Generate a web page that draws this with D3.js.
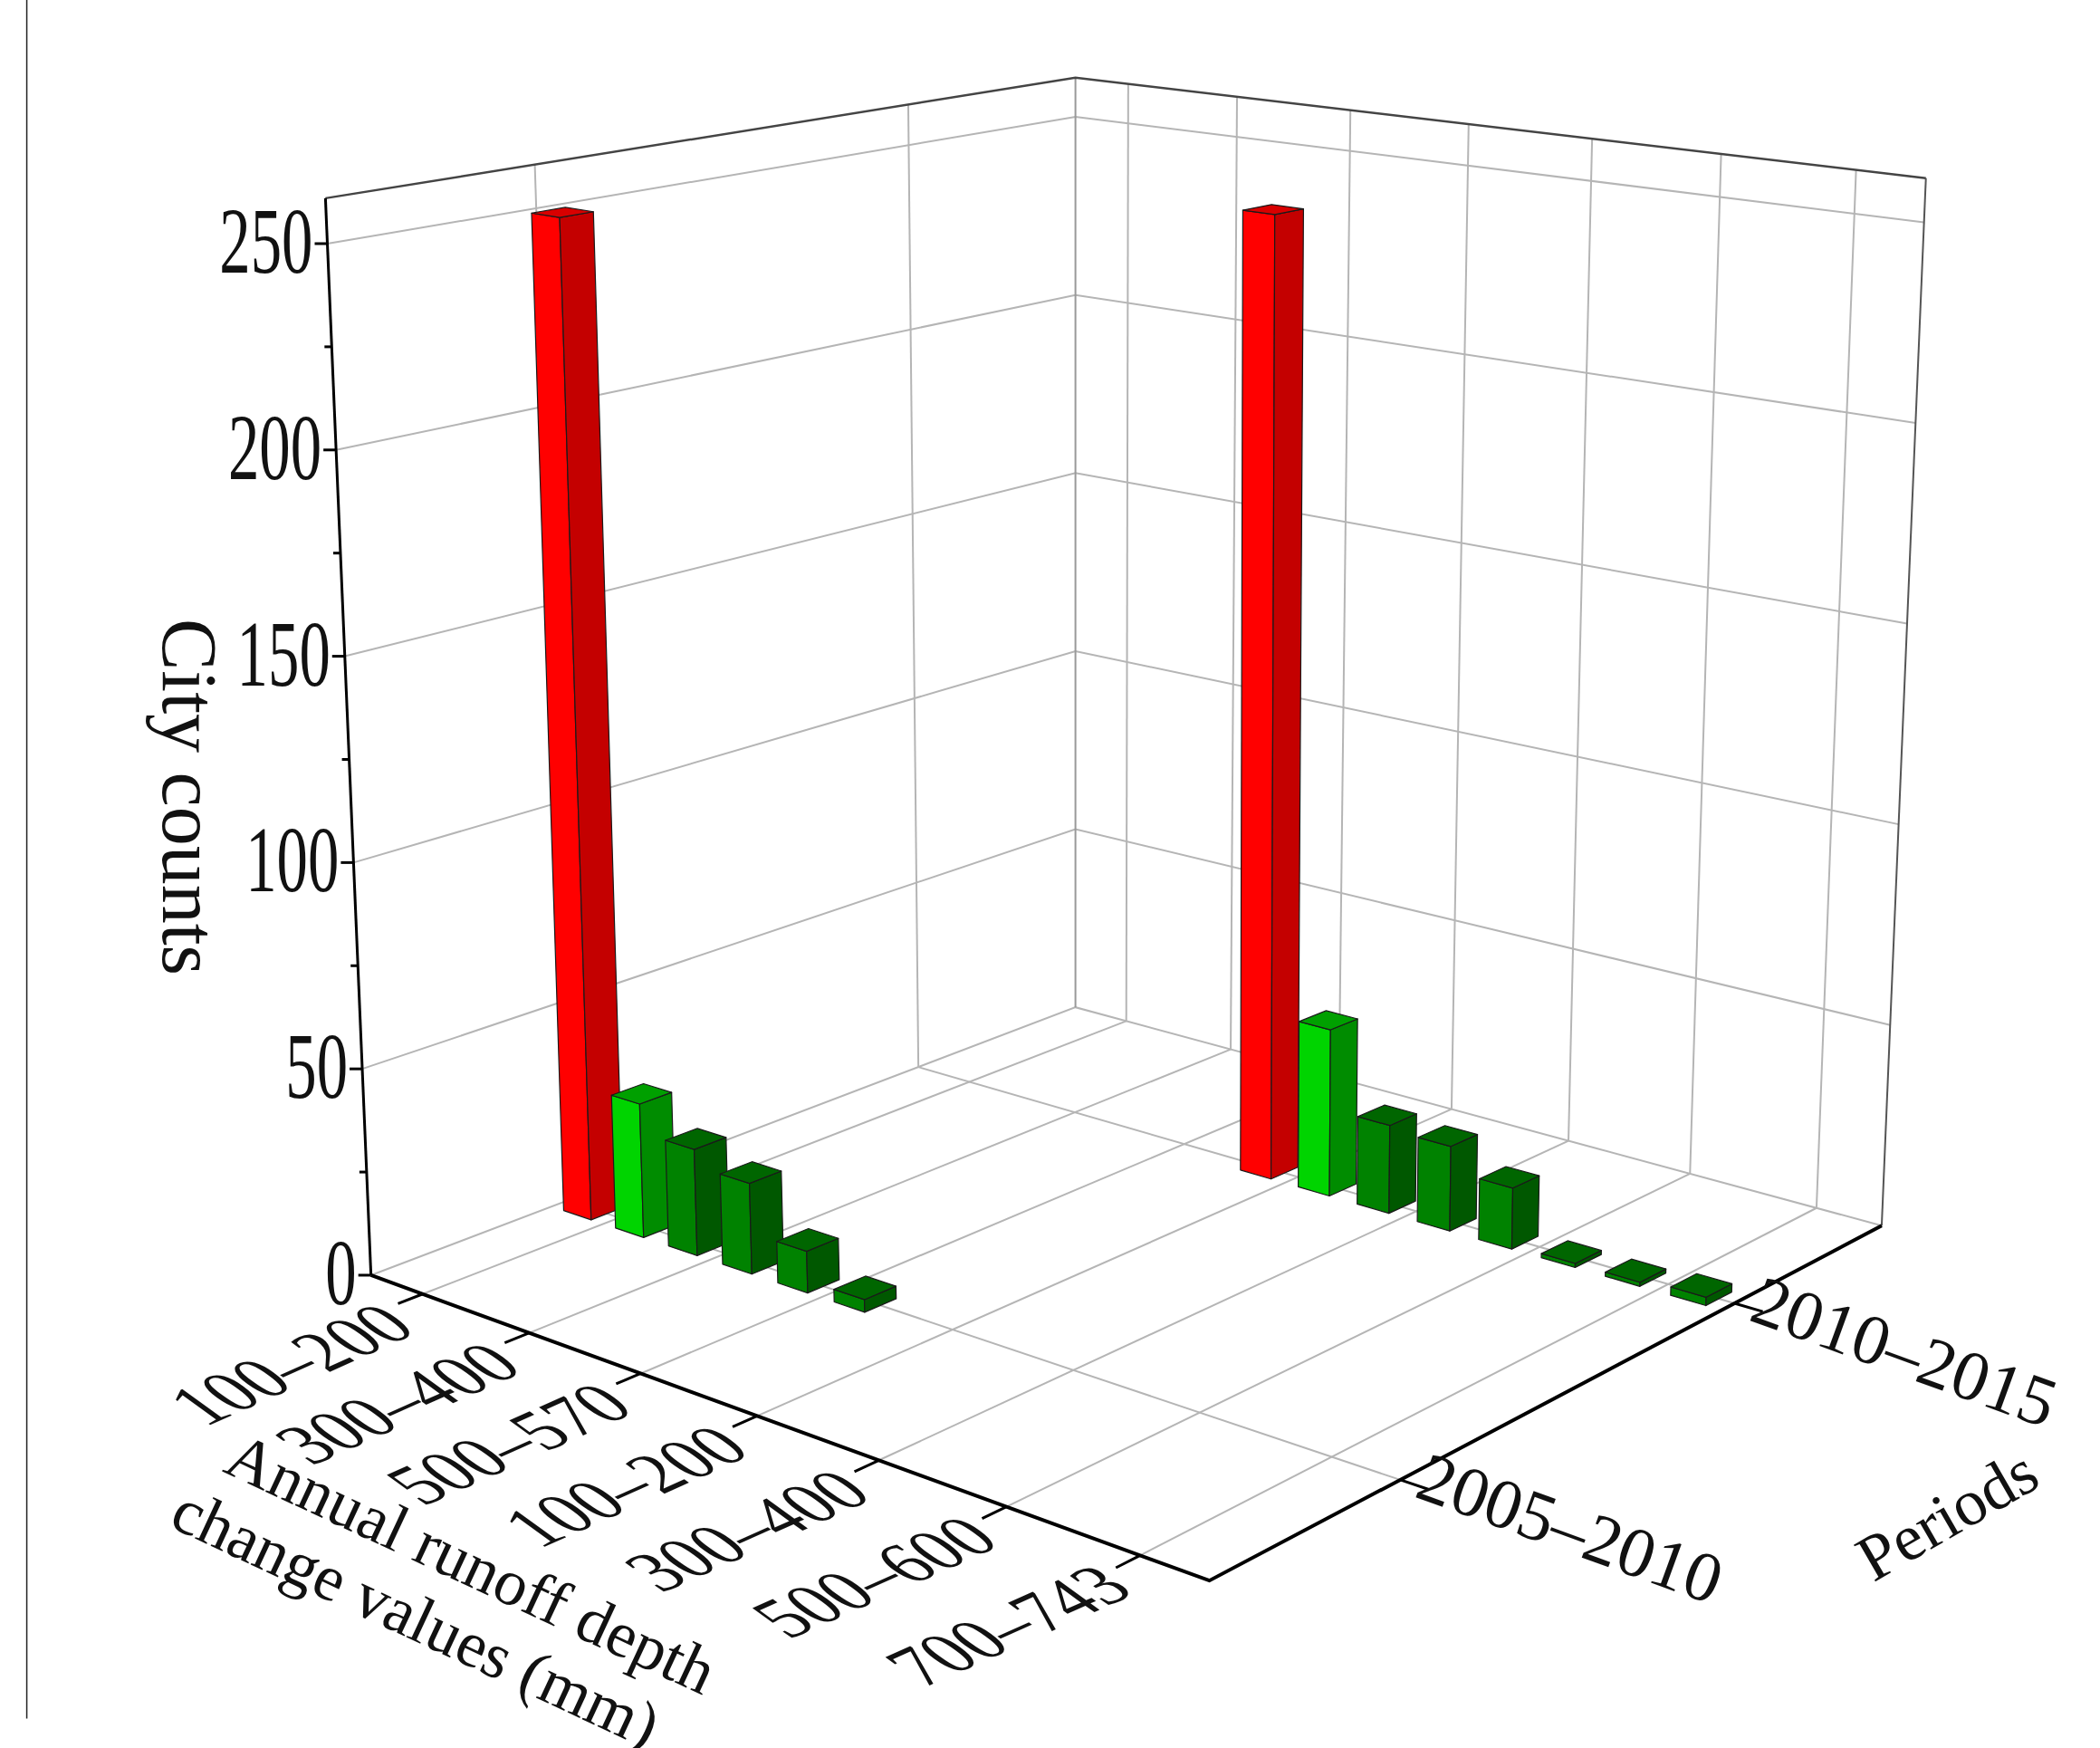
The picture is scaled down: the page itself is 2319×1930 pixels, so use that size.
<!DOCTYPE html>
<html>
<head>
<meta charset="utf-8">
<script src="https://cdn.jsdelivr.net/npm/d3@7"></script>
<style>
body{margin:0;background:#fff}
text{font-family:"Liberation Serif","Times New Roman",serif;fill:#111}
</style>
</head>
<body>
<div id="chart"></div>
<script>
// categories along the runoff axis (each label covers 2 bar slots)
var runoffLabels = ["100–200","300–400","500–570","100–200","300–400","500–600","700–743"]
var periods = ["2005–2010","2010–2015"]
var zTicks = [0,50,100,150,200,250]
// city counts per bar slot, by period
var slots2005 = [0,1,2,3,4,5]
var counts2005 = [250,33,26,22,10,3]
var slots2010 = [6,7,8,9,10,11,12,13]
var counts2010 = [246,42,22,21,15,1,1,2]

var W = 2319, H = 1930, S = W/1568
var ZMAX = 261

var svg = d3.select("#chart").append("svg").attr("width",W).attr("height",H)

// homography from unit square to a quad: p0 (0,0), p1 (1,0), p2 (1,1), p3 (0,1)
function homography(p){
  var [x0,y0]=p[0],[x1,y1]=p[1],[x2,y2]=p[2],[x3,y3]=p[3]
  var sx=x0-x1+x2-x3, sy=y0-y1+y2-y3
  var dx1=x1-x2, dx2=x3-x2, dy1=y1-y2, dy2=y3-y2
  var den=dx1*dy2-dx2*dy1
  var g=(sx*dy2-dx2*sy)/den, h=(dx1*sy-sx*dy1)/den
  var a=x1-x0+g*x1, b=x3-x0+h*x3, d=y1-y0+g*y1, e=y3-y0+h*y3
  return (u,v)=>{var q=g*u+h*v+1;return [(a*u+b*v+x0)/q,(d*u+e*v+y0)/q]}
}
var sc = p=>p.map(d=>[d[0]*S,d[1]*S])
// left, front, right, back corners
var floorH = homography(sc([[277,952],[903,1180],[1405,915],[803,752]]))
var topH = homography(sc([[243,148],[892,255],[1438,133],[803,58]]))

var slotScale = d3.scaleLinear().domain([0,14]).range([0,1])
var labelScale = d3.scalePoint().domain(d3.range(runoffLabels.length)).range([1/14,13/14])
var periodScale = d3.scalePoint().domain(periods).range([0.25,0.75])
var zScale = d3.scaleLinear().domain([0,ZMAX]).range([0,1])

function P(u,v,w){
  var f=floorH(u,v), t=topH(u,v), k=zScale(w)
  return [f[0]+(t[0]-f[0])*k, f[1]+(t[1]-f[1])*k]
}
var line = d3.line()

// left frame line
svg.append("line").attr("x1",20*S).attr("x2",20*S).attr("y1",0).attr("y2",1283*S)
  .attr("stroke","#222").attr("stroke-width",1.5)

var grid = svg.append("g").attr("fill","none").attr("stroke","#b5b5b5").attr("stroke-width",2)
zTicks.forEach(z=>{
  grid.append("path").attr("d",line([P(0,0,z),P(0,1,z),P(1,1,z)]))
})
periods.forEach(p=>{
  var v=periodScale(p)
  grid.append("path").attr("d",line([P(0,v,0),P(0,v,ZMAX)]))
  grid.append("path").attr("d",line([P(0,v,0),P(1,v,0)]))
})
runoffLabels.forEach((l,i)=>{
  var u=labelScale(i)
  grid.append("path").attr("d",line([P(u,1,0),P(u,1,ZMAX)]))
  grid.append("path").attr("d",line([P(u,0,0),P(u,1,0)]))
})
grid.append("path").attr("d",line([P(0,1,0),P(0,1,ZMAX)])).attr("stroke","#999")
grid.append("path").attr("d",line([P(1,1,0),P(1,1,ZMAX)])).attr("stroke","#555")
grid.append("path").attr("d",line([P(0,0,ZMAX),P(0,1,ZMAX),P(1,1,ZMAX)])).attr("stroke","#444").attr("stroke-width",2.5)

// bars
var bars = []
slots2005.forEach((s,i)=>bars.push({slot:s,v:periodScale(periods[0]),val:counts2005[i],k:i}))
slots2010.forEach((s,i)=>bars.push({slot:s,v:periodScale(periods[1]),val:counts2010[i],k:i}))
bars.sort((a,b)=>(b.v-a.v)||(a.slot-b.slot))
function colours(k){
  if(k==0) return ["#ff0000","#c40000","#d80000"]
  if(k==1) return ["#00d400","#008c00","#00a000"]
  return ["#008200","#005800","#006600"]
}
var bw=0.038, bd=0.042
var bg = svg.append("g").attr("stroke","#1a1a1a").attr("stroke-width",1.2).attr("stroke-linejoin","round")
bars.forEach(b=>{
  var uc=slotScale(b.slot+0.5), u0=uc-bw/2, u1=uc+bw/2, v0=b.v-bd/2, v1=b.v+bd/2, h=b.val
  var c=colours(b.k)
  bg.append("path").attr("fill",c[0]).attr("d",line([P(u0,v0,0),P(u1,v0,0),P(u1,v0,h),P(u0,v0,h)])+"Z")
  bg.append("path").attr("fill",c[1]).attr("d",line([P(u1,v0,0),P(u1,v1,0),P(u1,v1,h),P(u1,v0,h)])+"Z")
  bg.append("path").attr("fill",c[2]).attr("d",line([P(u0,v0,h),P(u1,v0,h),P(u1,v1,h),P(u0,v1,h)])+"Z")
})

// axes
var ax = svg.append("g").attr("fill","none").attr("stroke","#000")
ax.append("path").attr("stroke-width",4).attr("d",line([P(0,0,0),P(1,0,0),P(1,1,0)]))
ax.append("path").attr("stroke-width",3).attr("d",line([P(0,0,0),P(0,0,ZMAX)]))

d3.range(0,251,25).forEach(z=>{
  var p=P(0,0,z), len=(z%50==0?14:8)
  ax.append("line").attr("stroke-width",3).attr("x1",p[0]).attr("y1",p[1]).attr("x2",p[0]-len).attr("y2",p[1])
})
zTicks.forEach(z=>{
  var p=P(0,0,z)
  svg.append("text").attr("text-anchor","end").attr("font-size",86)
    .attr("transform","translate("+(p[0]-16)+","+(p[1]+32)+") scale(0.8,1.2)").text(z)
})

// runoff tick labels
runoffLabels.forEach((l,i)=>{
  var p=P(labelScale(i),0,0), q=P(labelScale(i),-0.03,0)
  ax.append("line").attr("stroke-width",3).attr("x1",p[0]).attr("y1",p[1]).attr("x2",q[0]).attr("y2",q[1])
  svg.append("text").attr("text-anchor","end").attr("font-size",74)
    .attr("transform","translate("+(p[0]-4)+","+(p[1]+42)+") rotate(-24) skewX(30)").text(l)
})
// period tick labels
periods.forEach(pr=>{
  var p=P(1,periodScale(pr),0), q=P(1.03,periodScale(pr),0)
  ax.append("line").attr("stroke-width",3).attr("x1",p[0]).attr("y1",p[1]).attr("x2",q[0]).attr("y2",q[1])
  svg.append("text").attr("text-anchor","start").attr("font-size",78)
    .attr("transform","translate("+(p[0]+14)+","+(p[1]+18)+") rotate(20)").text(pr)
})

// axis titles
svg.append("text").attr("text-anchor","middle").attr("font-size",86)
  .attr("transform","translate("+(122*S)+","+(595*S)+") rotate(90)").text("City counts")
var t = svg.append("text").attr("text-anchor","middle").attr("font-size",72)
  .attr("transform","translate("+(345*S)+","+(1182*S)+") rotate(25)")
t.append("tspan").attr("x",0).attr("dy",0).text("Annual runoff depth")
t.append("tspan").attr("x",-30).attr("dy",80).text("change values (mm)")
svg.append("text").attr("text-anchor","middle").attr("font-size",72)
  .attr("transform","translate("+(1462*S)+","+(1145*S)+") rotate(-30)").text("Periods")
</script>
</body>
</html>
